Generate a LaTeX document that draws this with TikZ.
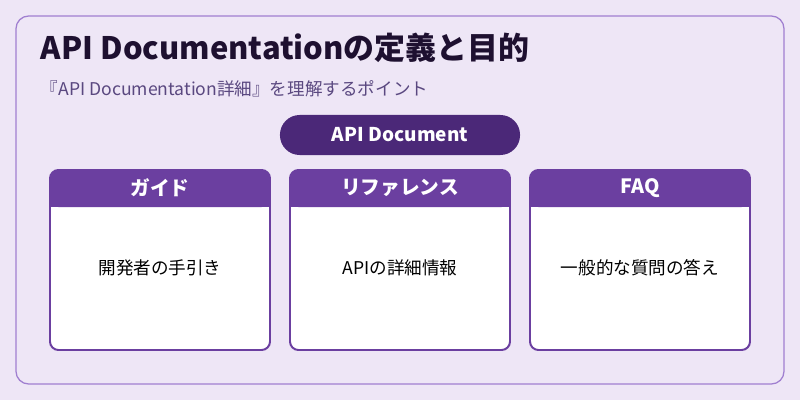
\documentclass[tikz,border=0pt]{standalone}
\usepackage{fontspec}
\setmainfont{Noto Sans CJK JP}
\usetikzlibrary{positioning}
\definecolor{BgLavender}{HTML}{EEE6F6}
\definecolor{FrameLine}{HTML}{A07FD0}
\definecolor{PillPurple}{HTML}{4B2878}
\definecolor{HeadPurple}{HTML}{6B3FA0}
\definecolor{TitleInk}{HTML}{1E1030}
\definecolor{SubInk}{HTML}{5A4880}
\begin{document}
\begin{tikzpicture}
[
x=0.025cm, y=-0.025cm,
Frame/.style={draw=FrameLine, fill=BgLavender, line width=0.9pt, rounded corners=9pt},
Pill/.style={rectangle, rounded corners=14pt, fill=PillPurple, text=white, font=\bfseries\fontsize{13.5}{15}\selectfont, minimum width=6cm, minimum height=1cm},
Card/.style={draw=HeadPurple, fill=white, line width=1.4pt, rounded corners=6pt},
Head/.style={fill=HeadPurple, rounded corners=6pt},
HeadText/.style={text=white, font=\bfseries\fontsize{14}{16}\selectfont},
BodyText/.style={text=black, font=\fontsize{12.5}{14}\selectfont}
]

\fill[BgLavender] (0,0) rectangle (800,400);
\draw[Frame] (16,16) rectangle (784,384);

\node[anchor=west, text=TitleInk, font=\bfseries\fontsize{22}{25}\selectfont] (title) at (36,48) {API Documentationの定義と目的};
\node[anchor=west, text=SubInk, font=\fontsize{12.5}{14}\selectfont] (subtitle) at (36,89) {『API Documentation詳細』を理解するポイント};

\node[Pill] (pill) at (400,135) {API Document};

\foreach \xa/\name/\head/\body in {50/guide/ガイド/開発者の手引き, 290/ref/リファレンス/APIの詳細情報, 530/faq/FAQ/一般的な質問の答え}
{
  \draw[Card] (\xa,170) rectangle ++(220,180);
  \fill[Head] (\xa,170) rectangle ++(220,37);
  \fill[HeadPurple] (\xa,195) rectangle ++(220,12);
  \node[HeadText] (\name-head) at (\xa+110,188) {\head};
  \node[BodyText] (\name-body) at (\xa+110,268) {\body};
}
\end{tikzpicture}
\end{document}
